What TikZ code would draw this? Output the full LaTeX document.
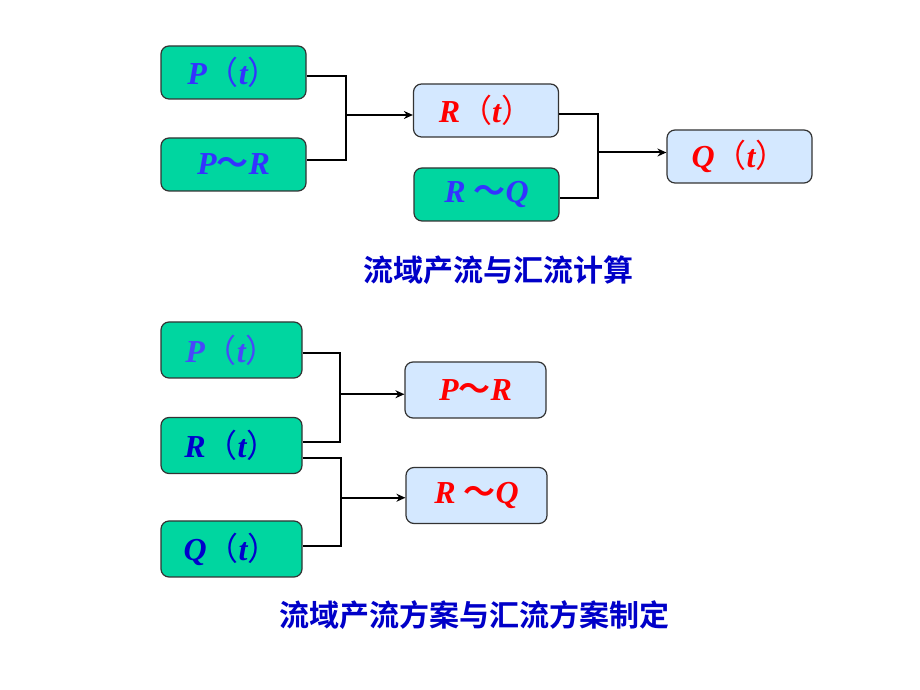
\documentclass[tikz,border=0pt]{standalone}
\usepackage{fontspec}
\setmainfont{Liberation Serif}
\newfontfamily\cjk{Noto Sans CJK SC}[BoldFont={Noto Sans CJK SC Bold}]
\usepackage{tikz}
\usetikzlibrary{arrows.meta, calc}

\definecolor{boxgreen}{RGB}{0,214,160}
\definecolor{boxblue}{RGB}{212,232,255}
\definecolor{inblue}{RGB}{51,51,255}
\definecolor{paleblue}{RGB}{72,72,250}
\definecolor{deepblue}{RGB}{0,0,204}
\definecolor{capblue}{RGB}{0,0,200}

\newcommand{\lp}{{\cjk\mdseries\upshape （}}
\newcommand{\rp}{{\cjk\mdseries\upshape ）}}
\newcommand{\wave}{{\cjk\bfseries\upshape ～}}

\begin{document}
\begin{tikzpicture}[x=0.5pt, y=0.5pt,
    box/.style={draw=black!80, line width=0.6pt, rounded corners=4pt, minimum width=72.5pt, minimum height=26.5pt, font=\fontsize{16}{19}\selectfont\bfseries\itshape},
    lowbox/.style={minimum width=70.5pt, minimum height=28pt},
    inbox/.style={box, fill=boxgreen, text=inblue},
    outbox/.style={box, fill=boxblue, text=red},
    link/.style={line width=1pt},
    arrow/.style={-{Stealth[length=4.5pt, width=4pt]}, line width=1pt},
    caption/.style={font=\cjk\fontsize{15}{18}\selectfont\bfseries, text=capblue}
]
    \useasboundingbox (0,0) rectangle (920,690);

    % Runoff and routing computation
    \node[inbox] (pt1) at (233.5,617.5) {P\lp t\rp};
    \node[inbox] (pr1) at (233.5,525.5) {P\wave R};
    \node[outbox] (rt1) at (486,579.5) {R\lp t\rp};
    \node[inbox] (rq1) at (486.5,495.5) {R \wave Q};
    \node[outbox] (qt1) at (739.5,533.5) {Q\lp t\rp};

    \draw[link] ($(pt1.east)+(0,-3.5)$) -- ++(39,0) |- ($(pr1.east)+(0,4.5)$);
    \coordinate (j1) at ($(pt1.east)!0.5!(pr1.east)+(39,3.5)$);
    \draw[arrow] (j1) -- (j1 -| rt1.west);

    \draw[link] ($(rt1.east)+(0,-3.5)$) -- ++(39,0) |- ($(rq1.east)+(0,-3.5)$);
    \coordinate (j2) at ($(rt1.east)!0.5!(rq1.east)+(39,0)$);
    \draw[arrow] (j2) -- (j2 -| qt1.west);

    \node[caption] (cap1) at (498,420) {流域产流与汇流计算};

    % Scheme setup
    \node[inbox, lowbox, text=paleblue] (pt2) at (231.5,340) {P\lp t\rp};
    \node[inbox, lowbox, text=deepblue] (rt2) at (231.5,244.5) {R\lp t\rp};
    \node[inbox, lowbox, text=deepblue] (qt2) at (231.5,141) {Q\lp t\rp};
    \node[outbox, lowbox] (pr2) at (475.5,300) {P\wave R};
    \node[outbox, lowbox] (rq2) at (476.5,194.5) {R \wave Q};

    \draw[link] ($(pt2.east)+(0,-3)$) -- ++(37,0) |- ($(rt2.east)+(0,3.5)$);
    \coordinate (j3) at ($(pt2.east)!0.5!(rt2.east)+(37,3.5)$);
    \draw[arrow] (j3) -- (j3 -| pr2.west);

    \draw[link] ($(rt2.east)+(0,-12.5)$) -- ++(38,0) |- ($(qt2.east)+(0,3)$);
    \coordinate (j4) at ($(rt2.east)!0.5!(qt2.east)+(38,-0.5)$);
    \draw[arrow] (j4) -- (j4 -| rq2.west);

    \node[caption] (cap2) at (474.5,75) {流域产流方案与汇流方案制定};

\end{tikzpicture}
\end{document}
